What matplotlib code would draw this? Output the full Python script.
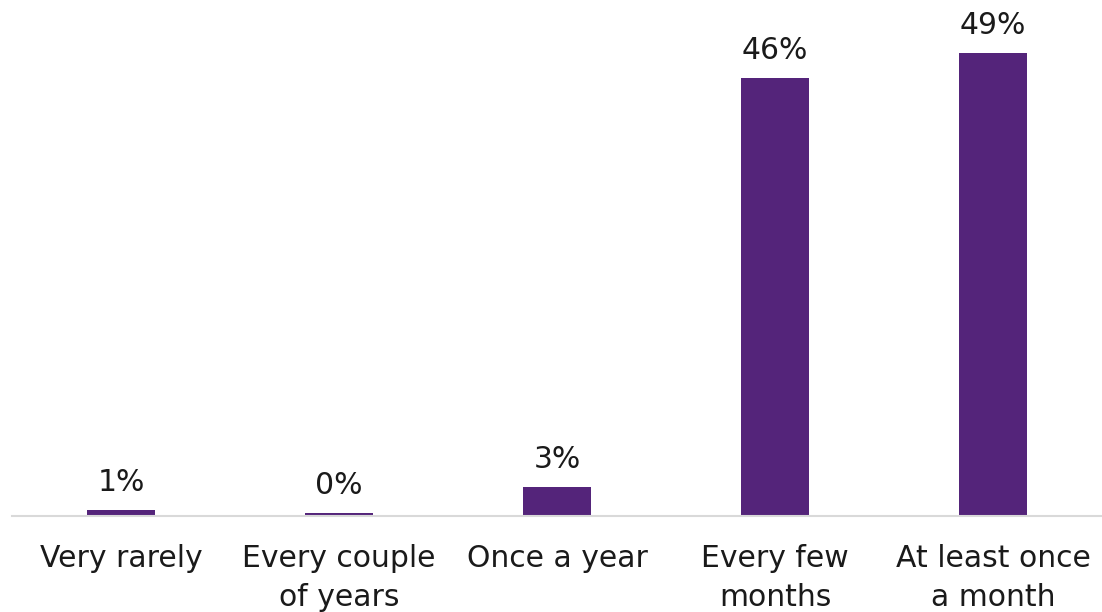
import matplotlib
matplotlib.use("Agg")
import matplotlib.pyplot as plt

categories = ["Very rarely", "Every couple\nof years", "Once a year", "Every few\nmonths", "At least once\na month"]
values = [0.6, 0.3, 3.1, 46.3, 49.0]

plt.rcParams['font.family'] = ['DejaVu Sans']

fig = plt.figure(figsize=(11.02, 6.12), dpi=100)
ax = fig.add_axes([12/1102, 96/612, 1 - 12/1102, 516/612])

x = range(len(categories))
bars = ax.bar(x, values, width=0.31, color='#54247A')

for xi, v in zip(x, values):
    ax.annotate(f"{round(v)}%", (xi, v), xytext=(0, 9.5), textcoords='offset points',
                ha='center', va='bottom', fontsize=21.5, color='#1a1a1a')

ax.set_xlim(-0.5, 4.5)
ax.set_ylim(0, 516/9.45)
ax.set_xticks(list(x))
ax.set_xticklabels(categories, fontsize=21.5, color='#1a1a1a', linespacing=1.45)
ax.tick_params(axis='x', length=0, pad=20)
ax.set_yticks([])
for s in ['top', 'right', 'left']:
    ax.spines[s].set_visible(False)
ax.spines['bottom'].set_color('#D9D9D9')
ax.spines['bottom'].set_linewidth(1.5)

fig.savefig('out.png', dpi=100)
